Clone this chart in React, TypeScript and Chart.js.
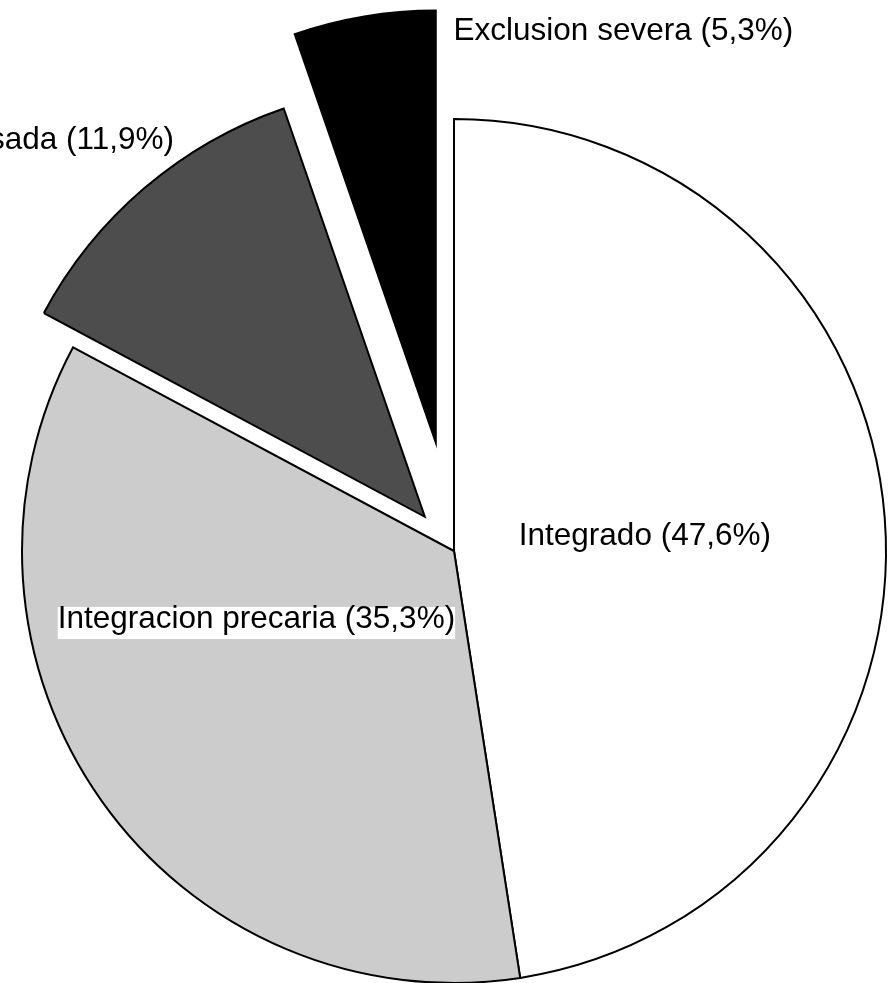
import React, { useEffect, useRef } from "react";
import { Chart, registerables } from "chart.js";

Chart.register(...registerables);

// ---- data ----
const categories: string[] = [
  "Integrado",
  "Integracion precaria",
  "Exclusion compensada",
  "Exclusion severa",
];
const values: number[] = [47.6, 35.3, 11.9, 5.3];

// ---- styles / layout ----
const sliceColors = ["#ffffff", "#cccccc", "#4d4d4d", "#000000"];
const sliceExplode = [0, 0, 45, 110]; // pixels, along slice mid-angle
// label anchors relative to pie centre, in units of radius
const labelDx = [0.15, -0.9174, -0.648, -0.001];
const labelDy = [-0.0139, 0.179, -0.93, -1.183];
const labelAlign: CanvasTextAlign[] = ["left", "left", "right", "left"];
const labelBox = [false, true, false, false];
const FONT_SIZE = 31.5;
const FONT = `${FONT_SIZE}px "Liberation Sans", Arial, Helvetica, sans-serif`;

const fmt = (v: number) => v.toFixed(1).replace(".", ",");

const explodePlugin = {
  id: "explodeSlices",
  afterDatasetUpdate(chart: any, args: any) {
    const arcs = args.meta.data;
    arcs.forEach((arc: any, i: number) => {
      const d = sliceExplode[i] || 0;
      if (!d) return;
      const mid = (arc.startAngle + arc.endAngle) / 2;
      arc.x += Math.cos(mid) * d;
      arc.y += Math.sin(mid) * d;
    });
  },
};

const labelPlugin = {
  id: "sliceLabels",
  afterDraw(chart: any) {
    const meta = chart.getDatasetMeta(0);
    const base = meta.data[0];
    if (!base) return;
    const cx = base.x;
    const cy = base.y;
    const r = base.outerRadius;
    const ctx = chart.ctx as CanvasRenderingContext2D;
    ctx.save();
    ctx.font = FONT;
    ctx.textBaseline = "alphabetic";
    categories.forEach((name, i) => {
      const text = `${name} (${fmt(values[i])}%)`;
      const x = cx + labelDx[i] * r;
      const y = cy + labelDy[i] * r;
      ctx.textAlign = labelAlign[i];
      if (labelBox[i]) {
        const w = ctx.measureText(text).width;
        const left = labelAlign[i] === "right" ? x - w : x;
        ctx.fillStyle = "#ffffff";
        ctx.fillRect(left, y - FONT_SIZE * 0.68, w, FONT_SIZE * 1.02);
      }
      ctx.fillStyle = "#000000";
      ctx.fillText(text, x, y);
    });
    ctx.restore();
  },
};

export default function App() {
  const canvasRef = useRef<HTMLCanvasElement | null>(null);

  useEffect(() => {
    const canvas = canvasRef.current;
    if (!canvas) return;
    const chart = new Chart(canvas, {
      type: "pie",
      data: {
        labels: categories,
        datasets: [
          {
            data: values,
            backgroundColor: sliceColors,
            borderColor: "#000000",
            borderWidth: 2,
            borderJoinStyle: "miter",
          } as any,
        ],
      },
      options: {
        responsive: false,
        animation: false,
        radius: 432,
        layout: { padding: { left: 12, right: 0, top: 119, bottom: 0 } },
        plugins: {
          legend: { display: false },
          tooltip: { enabled: false },
        },
        events: [],
      } as any,
      plugins: [explodePlugin, labelPlugin],
    });
    return () => chart.destroy();
  }, []);

  return (
    <canvas
      ref={canvasRef}
      width={896}
      height={983}
      style={{ position: "absolute", left: 0, top: 0, width: 896, height: 983 }}
    />
  );
}
